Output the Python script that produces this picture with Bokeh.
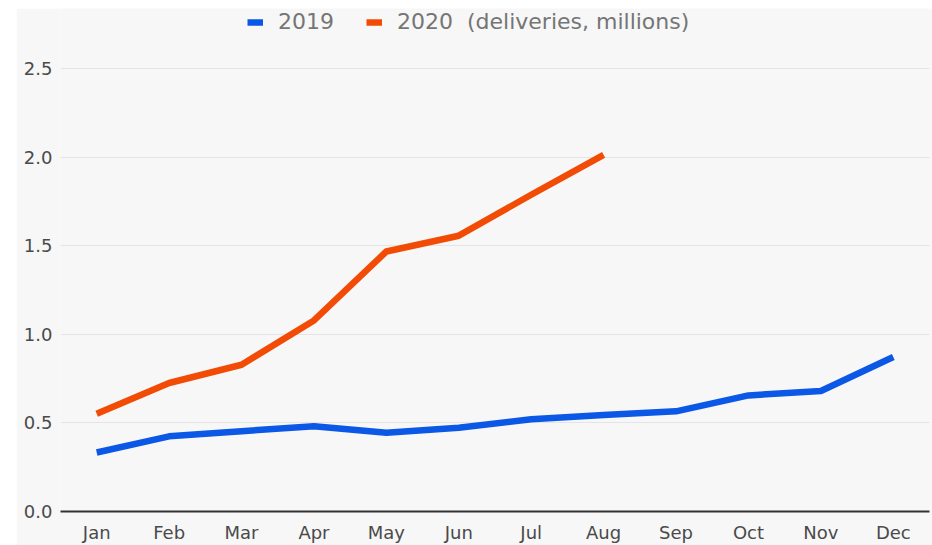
from bokeh.plotting import figure
from bokeh.models import Legend, LegendItem, Range1d, FixedTicker, Spacer, CustomJSTickFormatter
from bokeh.layouts import row, column
from bokeh.embed import file_html
from bokeh.resources import INLINE

months = ["Jan", "Feb", "Mar", "Apr", "May", "Jun", "Jul", "Aug", "Sep", "Oct", "Nov", "Dec"]
deliveries_2019 = [0.333, 0.424, 0.453, 0.481, 0.444, 0.472, 0.52, 0.545, 0.565, 0.655, 0.68, 0.872]
months_2020 = months[:8]
deliveries_2020 = [0.552, 0.725, 0.828, 1.078, 1.467, 1.556, 1.787, 2.012]
y_ticks = [0.0, 0.5, 1.0, 1.5, 2.0, 2.5]

BG = "#f7f7f7"
FONT = "DejaVu Sans"

# frame spans the legend strip too; 2.5 sits 60px below the frame top
p = figure(width=916, height=537, x_range=months, y_range=Range1d(0, 2.5 * 504 / 444),
           output_backend="svg", toolbar_location=None,
           min_border_left=44, min_border_right=3, min_border_top=0, min_border_bottom=33)
p.x_range.range_padding = 0
p.background_fill_color = BG
p.border_fill_color = BG
p.outline_line_color = None

r19 = p.line(months, deliveries_2019, line_color="#0b57e6", line_width=6.5, line_join="round")
r20 = p.line(months_2020, deliveries_2020, line_color="#f24b05", line_width=6.5, line_join="round")

p.xgrid.grid_line_color = None
p.ygrid.grid_line_color = "#e4e4e4"
p.ygrid.grid_line_width = 1
p.yaxis.ticker = FixedTicker(ticks=y_ticks)
p.yaxis.formatter = CustomJSTickFormatter(code="return tick.toFixed(1);")

p.yaxis.axis_line_color = None
p.yaxis.major_tick_line_color = None
p.yaxis.minor_tick_line_color = None
p.yaxis.major_tick_out = 0
p.yaxis.major_tick_in = 0
p.yaxis.major_label_standoff = 8
p.yaxis.major_label_text_font = FONT
p.yaxis.major_label_text_font_size = "18px"
p.yaxis.major_label_text_color = "#4a4a4a"

p.xaxis.axis_line_color = "#333333"
p.xaxis.axis_line_width = 2
p.xaxis.major_tick_line_color = None
p.xaxis.minor_tick_line_color = None
p.xaxis.major_tick_out = 0
p.xaxis.major_tick_in = 0
p.xaxis.major_label_standoff = 10
p.xaxis.major_label_text_font = FONT
p.xaxis.major_label_text_font_size = "18px"
p.xaxis.major_label_text_color = "#4a4a4a"

legend = Legend(items=[LegendItem(label="2019", renderers=[r19]),
                       LegendItem(label="2020  (deliveries, millions)", renderers=[r20])],
                orientation="horizontal", location=(187, 477))
legend.background_fill_alpha = 0
legend.border_line_color = None
legend.label_text_font = FONT
legend.label_text_font_size = "22px"
legend.label_text_color = "#757575"
legend.glyph_width = 16
legend.glyph_height = 20
legend.spacing = 32
legend.label_standoff = 15
legend.padding = 0
legend.margin = 0
p.add_layout(legend)

layout = column(Spacer(width=932, height=8), row(Spacer(width=16, height=537), p))
open("out.html", "w").write(file_html(layout, INLINE))
